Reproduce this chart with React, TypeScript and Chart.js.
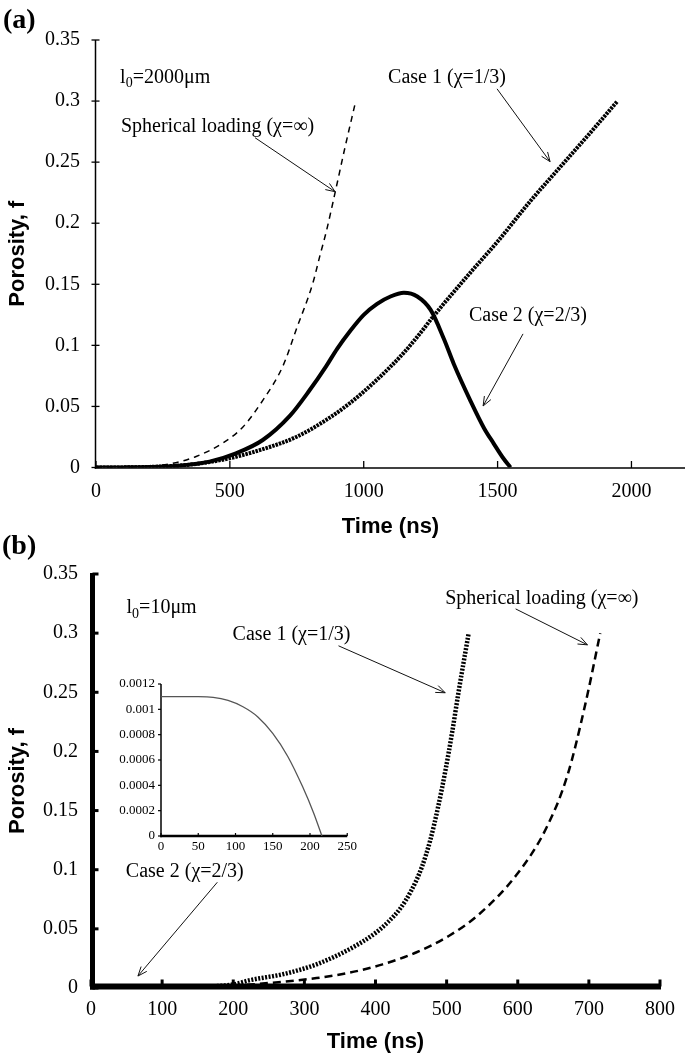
import React, { useEffect, useRef } from "react";
import { Chart, registerables } from "chart.js";
Chart.register(...registerables);

const SERIF = '"Liberation Serif", "Times New Roman", serif';
const SANS = '"Liberation Sans", Arial, sans-serif';

// ---------- Panel (a): l0 = 2000 µm ----------
const aTicksX = [0, 500, 1000, 1500, 2000];
const aTicksY = [0, 0.05, 0.1, 0.15, 0.2, 0.25, 0.3, 0.35];
const aSphericalT = [0, 100, 200, 287, 374, 474, 548, 623, 698, 748, 810, 837, 860, 893, 930, 968];
const aSphericalF = [0, 0.0001, 0.001, 0.0034, 0.009, 0.02, 0.033, 0.055, 0.083, 0.113, 0.151, 0.174, 0.193, 0.225, 0.262, 0.298];
const aCase1T = [0, 100, 200, 300, 374, 498, 623, 748, 860, 950, 1050, 1150, 1211, 1261, 1400, 1504, 1622, 1750, 1850, 1948];
const aCase1F = [0, 0.0001, 0.0005, 0.0015, 0.0029, 0.0075, 0.015, 0.025, 0.039, 0.053, 0.072, 0.094, 0.11, 0.124, 0.16, 0.186, 0.218, 0.25, 0.275, 0.3];
const aCase2T = [0, 100, 200, 311, 424, 523, 623, 723, 797, 860, 900, 950, 1000, 1050, 1100, 1150, 1200, 1250, 1300, 1336, 1400, 1450, 1485, 1520, 1548];
const aCase2F = [0, 0.0001, 0.0004, 0.0015, 0.0048, 0.0116, 0.0225, 0.042, 0.063, 0.083, 0.097, 0.112, 0.125, 0.134, 0.14, 0.143, 0.14, 0.129, 0.105, 0.085, 0.054, 0.032, 0.0198, 0.008, 0];

// ---------- Panel (b): l0 = 10 µm ----------
const bTicksX = [0, 100, 200, 300, 400, 500, 600, 700, 800];
const bTicksY = [0, 0.05, 0.1, 0.15, 0.2, 0.25, 0.3, 0.35];
const bCase1T = [0, 100, 150, 200, 224, 271, 317, 364, 401, 418, 434, 450, 465, 477, 488, 499, 508, 517, 531];
const bCase1F = [0, 0.0003, 0.001, 0.003, 0.0067, 0.0118, 0.02, 0.033, 0.047, 0.056, 0.0666, 0.082, 0.102, 0.125, 0.153, 0.186, 0.217, 0.251, 0.3];
const bSphericalT = [0, 100, 200, 270, 317, 364, 410, 457, 503, 545, 600, 640, 670, 695, 716];
const bSphericalF = [0, 0.0002, 0.002, 0.0053, 0.0084, 0.013, 0.02, 0.03, 0.044, 0.062, 0.097, 0.135, 0.18, 0.24, 0.3];

// ---------- Inset: Case 2 (chi = 2/3), l0 = 10 µm ----------
const insetTicksX = [0, 50, 100, 150, 200, 250];
const insetTicksY = [0, 0.0002, 0.0004, 0.0006, 0.0008, 0.001, 0.0012];
const insetT = [0, 50, 70, 90, 110, 130, 150, 170, 190, 205, 216];
const insetF = [0.0011, 0.0011, 0.001095, 0.00107, 0.00102, 0.00094, 0.00081, 0.00063, 0.00039, 0.00018, 0];

const pts = (t: number[], f: number[]) => t.map((x, i) => ({ x, y: f[i] }));
const fmt = (v: number | string) => String(+Number(v).toFixed(5));

type Part = { t: string; sub?: boolean };
type Txt = { parts: Part[]; x: number; y: number; size: number };
type Arrow = { x1: number; y1: number; x2: number; y2: number };
type Decor = {
  yLine: number; yLineShift: number; xLine: number; xLineShift: number;
  topExt: number; rightExt: number;
  tickW: number; yTick: [number, number]; xTick: [number, number];
  texts: Txt[]; arrows: Arrow[];
  label?: { text: string; x: number; y: number; size: number };
};

function makeDecor(o: Decor) {
  return {
    id: "decor",
    beforeDatasetsDraw(chart: any) {
      const { ctx, chartArea: ca, scales } = chart;
      const xs = scales.x, ys = scales.y;
      const ax = ca.left + o.yLineShift;
      const ay = ca.bottom + o.xLineShift;
      ctx.save();
      ctx.strokeStyle = "#000";
      ctx.lineCap = "butt";
      ctx.lineWidth = o.yLine;
      ctx.beginPath();
      ctx.moveTo(ax, ca.top - o.topExt);
      ctx.lineTo(ax, ay + o.xLine / 2);
      ctx.stroke();
      ctx.lineWidth = o.xLine;
      ctx.beginPath();
      ctx.moveTo(ax - o.yLine / 2, ay);
      ctx.lineTo(ca.right + o.rightExt, ay);
      ctx.stroke();
      ctx.lineWidth = o.tickW;
      for (const t of ys.ticks) {
        const p = ys.getPixelForValue(t.value);
        ctx.beginPath();
        ctx.moveTo(ax + o.yTick[0], p);
        ctx.lineTo(ax + o.yTick[1], p);
        ctx.stroke();
      }
      for (const t of xs.ticks) {
        const p = xs.getPixelForValue(t.value);
        ctx.beginPath();
        ctx.moveTo(p, ay + o.xTick[0]);
        ctx.lineTo(p, ay + o.xTick[1]);
        ctx.stroke();
      }
      ctx.restore();
    },
    afterDraw(chart: any) {
      const { ctx, scales } = chart;
      const xs = scales.x, ys = scales.y;
      ctx.save();
      ctx.fillStyle = "#000";
      ctx.textAlign = "left";
      ctx.textBaseline = "middle";
      for (const a of o.texts) {
        let cx = xs.getPixelForValue(a.x);
        const cy = ys.getPixelForValue(a.y);
        for (const p of a.parts) {
          if (p.sub) {
            ctx.font = `${a.size * 0.7}px ${SERIF}`;
            ctx.fillText(p.t, cx, cy + a.size * 0.3);
          } else {
            ctx.font = `${a.size}px ${SERIF}`;
            ctx.fillText(p.t, cx, cy);
          }
          cx += ctx.measureText(p.t).width;
        }
      }
      ctx.strokeStyle = "#111";
      ctx.lineWidth = 1;
      for (const r of o.arrows) {
        const x1 = xs.getPixelForValue(r.x1), y1 = ys.getPixelForValue(r.y1);
        const x2 = xs.getPixelForValue(r.x2), y2 = ys.getPixelForValue(r.y2);
        const ang = Math.atan2(y2 - y1, x2 - x1);
        const L = 10, s = 0.38;
        ctx.beginPath();
        ctx.moveTo(x1, y1);
        ctx.lineTo(x2, y2);
        ctx.moveTo(x2 - L * Math.cos(ang - s), y2 - L * Math.sin(ang - s));
        ctx.lineTo(x2, y2);
        ctx.lineTo(x2 - L * Math.cos(ang + s), y2 - L * Math.sin(ang + s));
        ctx.stroke();
      }
      if (o.label) {
        ctx.font = `bold ${o.label.size}px ${SERIF}`;
        ctx.fillText(o.label.text, o.label.x, o.label.y);
      }
      ctx.restore();
    },
  };
}

function axis(opts: {
  min: number; max: number; ticks: number[]; fit: (s: any) => void;
  size: number; pad: number; title?: string; titlePad?: any;
}) {
  return {
    type: "linear",
    min: opts.min,
    max: opts.max,
    afterBuildTicks: (s: any) => {
      s.ticks = opts.ticks.map((v) => ({ value: v }));
    },
    afterFit: opts.fit,
    grid: { display: false, drawTicks: false },
    border: { display: false },
    ticks: {
      font: { family: SERIF, size: opts.size },
      color: "#000",
      padding: opts.pad,
      maxRotation: 0,
      autoSkip: false,
      callback: (v: any) => fmt(v),
    },
    title: opts.title
      ? {
          display: true,
          text: opts.title,
          color: "#000",
          font: { family: SANS, size: 22, weight: "bold" },
          padding: opts.titlePad,
        }
      : { display: false },
  };
}

const lineDs = (data: any, width: number, dash: number[], color = "#000") => ({
  data,
  borderColor: color,
  borderWidth: width,
  borderDash: dash,
  borderCapStyle: "butt",
  pointRadius: 0,
  fill: false,
  cubicInterpolationMode: "monotone",
});

const baseOpts = (padding: any, scales: any) => ({
  animation: false,
  responsive: false,
  events: [],
  layout: { padding },
  plugins: { legend: { display: false }, tooltip: { enabled: false } },
  scales,
});

function topConfig(): any {
  return {
    type: "line",
    data: {
      datasets: [
        lineDs(pts(aSphericalT, aSphericalF), 1.5, [6, 5]),
        lineDs(pts(aCase1T, aCase1F), 4, [2.5, 1]),
        lineDs(pts(aCase2T, aCase2F), 4, []),
      ],
    },
    options: baseOpts(
      { top: 40, right: 0, left: 0, bottom: 0 },
      {
        x: axis({ min: 0, max: 2200, ticks: aTicksX, fit: (s) => (s.height = 77.5), size: 20, pad: 12, title: "Time (ns)", titlePad: { top: 0, bottom: 4.8 } }),
        y: axis({ min: 0, max: 0.35, ticks: aTicksY, fit: (s) => (s.width = 96), size: 20, pad: 16, title: "Porosity, f", titlePad: { top: 4.8, bottom: 0 } }),
      }
    ),
    plugins: [
      makeDecor({
        yLine: 1.5, yLineShift: -0.5, xLine: 1.5, xLineShift: 0.5, topExt: 0, rightExt: 0,
        tickW: 1.3, yTick: [-4, 4], xTick: [-7, 0],
        texts: [
          { parts: [{ t: "l" }, { t: "0", sub: true }, { t: "=2000μm" }], x: 90, y: 0.3193, size: 20 },
          { parts: [{ t: "Spherical loading (χ=∞)" }], x: 93, y: 0.279, size: 20 },
          { parts: [{ t: "Case 1 (χ=1/3)" }], x: 1091, y: 0.319, size: 20 },
          { parts: [{ t: "Case 2 (χ=2/3)" }], x: 1393, y: 0.1242, size: 20 },
        ],
        arrows: [
          { x1: 594, y1: 0.27, x2: 893, y2: 0.2258 },
          { x1: 1498, y1: 0.31, x2: 1696, y2: 0.2504 },
          { x1: 1595, y1: 0.1094, x2: 1446, y2: 0.0504 },
        ],
        label: { text: "(a)", x: 3, y: 21, size: 28 },
      }),
    ],
  };
}

function bottomConfig(): any {
  return {
    type: "line",
    data: {
      datasets: [
        lineDs(pts(insetT, insetF), 1, []),
        lineDs(pts(bCase1T, bCase1F), 4.5, [2, 1.5]),
        lineDs(pts(bSphericalT, bSphericalF), 2.5, [8, 5]),
      ],
    },
    options: baseOpts(
      { top: 54, right: 23, left: 0, bottom: 0 },
      {
        x: axis({ min: 0, max: 800, ticks: bTicksX, fit: (s) => (s.height = 67), size: 20, pad: 10, title: "Time (ns)", titlePad: { top: 0, bottom: 0 } }),
        y: axis({ min: 0, max: 0.35, ticks: bTicksY, fit: (s) => (s.width = 91), size: 20, pad: 13, title: "Porosity, f", titlePad: { top: 4.8, bottom: 0 } }),
      }
    ),
    plugins: [
      makeDecor({
        yLine: 5, yLineShift: 1.5, xLine: 6, xLineShift: -1.5, topExt: 1, rightExt: 1,
        tickW: 3, yTick: [0, 6], xTick: [-7, 0],
        texts: [
          { parts: [{ t: "l" }, { t: "0", sub: true }, { t: "=10μm" }], x: 50, y: 0.3213, size: 20 },
          { parts: [{ t: "Case 1 (χ=1/3)" }], x: 199, y: 0.2986, size: 20 },
          { parts: [{ t: "Spherical loading (χ=∞)" }], x: 498, y: 0.3289, size: 20 },
          { parts: [{ t: "Case 2 (χ=2/3)" }], x: 49, y: 0.0987, size: 20 },
        ],
        arrows: [
          { x1: 348, y1: 0.2893, x2: 498, y2: 0.2496 },
          { x1: 597, y1: 0.3205, x2: 698, y2: 0.2901 },
          { x1: 177.6, y1: 0.0894, x2: 66, y2: 0.0101 },
        ],
        label: { text: "(b)", x: 2, y: 27, size: 28 },
      }),
    ],
  };
}

function insetConfig(): any {
  return {
    type: "line",
    data: { datasets: [lineDs(pts(insetT, insetF), 1.3, [], "#555")] },
    options: baseOpts(
      { top: 14, right: 11, left: 0, bottom: 0 },
      {
        x: axis({ min: 0, max: 250, ticks: insetTicksX, fit: (s) => (s.height = 29), size: 13, pad: 3, titlePad: {} }),
        y: axis({ min: 0, max: 0.0012, ticks: insetTicksY, fit: (s) => (s.width = 101), size: 13, pad: 6, titlePad: {} }),
      }
    ),
    plugins: [
      makeDecor({
        yLine: 1.5, yLineShift: 0, xLine: 2.5, xLineShift: 0, topExt: 0, rightExt: 0,
        tickW: 1.2, yTick: [-3, 0], xTick: [-3, 0],
        texts: [], arrows: [],
      }),
    ],
  };
}

function Panel(props: { make: () => any; left: number; top: number; width: number; height: number }) {
  const ref = useRef<HTMLCanvasElement>(null);
  useEffect(() => {
    const chart = new Chart(ref.current as HTMLCanvasElement, props.make());
    return () => chart.destroy();
  }, []);
  return (
    <canvas
      ref={ref}
      width={props.width}
      height={props.height}
      style={{ position: "absolute", left: props.left, top: props.top, width: props.width, height: props.height }}
    />
  );
}

export default function App() {
  return (
    <div style={{ position: "absolute", left: 0, top: 0, width: 685, height: 1055, background: "#fff" }}>
      <Panel make={topConfig} left={0} top={0} width={685} height={545} />
      <Panel make={bottomConfig} left={0} top={520} width={685} height={535} />
      <Panel make={insetConfig} left={60} top={670} width={300} height={195} />
    </div>
  );
}
